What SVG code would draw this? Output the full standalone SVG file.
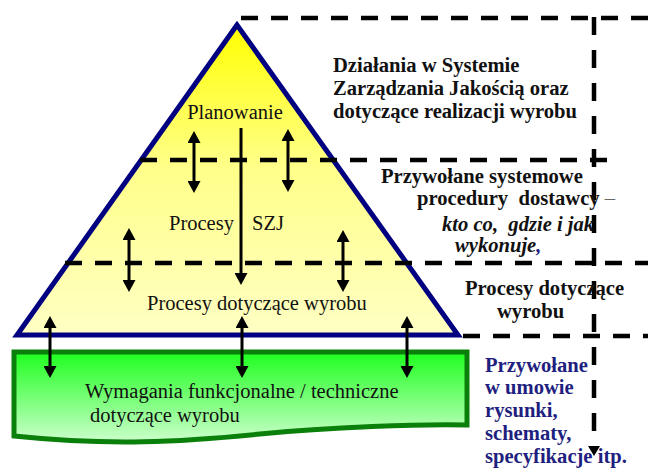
<svg xmlns="http://www.w3.org/2000/svg" width="648" height="471" viewBox="0 0 648 471">
<style>
.t{font-family:"Liberation Serif","Times New Roman",serif;font-size:20.5px;fill:#111;white-space:pre}
.b{font-weight:bold;font-size:20.6px}
.i{font-style:italic}
.blue{fill:#1f1f80}
.dash{stroke:#000;stroke-width:4.5;fill:none;stroke-dasharray:17 13}
.vdash{stroke:#000;stroke-width:4.5;fill:none;stroke-dasharray:18 15}
.arr{stroke:#000;stroke-width:3;fill:none}
.da{marker-start:url(#ah);marker-end:url(#ah)}
.sa{marker-end:url(#ah)}
</style>
<defs>
<linearGradient id="gy" x1="0" y1="0" x2="0" y2="1">
<stop offset="0" stop-color="#ffff00"/>
<stop offset="0.45" stop-color="#ffff88"/>
<stop offset="1" stop-color="#ffffc4"/>
</linearGradient>
<linearGradient id="gg" x1="0" y1="0" x2="0" y2="1">
<stop offset="0" stop-color="#1eff1e"/>
<stop offset="1" stop-color="#ccffcc"/>
</linearGradient>
<marker id="ah" viewBox="0 0 12 13" markerUnits="userSpaceOnUse" markerWidth="12" markerHeight="13" refX="2" refY="6.5" orient="auto-start-reverse">
<path d="M0,0 L12,6.5 L0,13 z" fill="#000"/>
</marker>
<marker id="vh" viewBox="0 0 10 12" markerUnits="userSpaceOnUse" markerWidth="10" markerHeight="12" refX="1" refY="6" orient="auto">
<path d="M0,0 L10,6 L0,12 z" fill="#000"/>
</marker>
</defs>

<g id="pyramid">
<polygon points="237,25 17,335 458,335" fill="url(#gy)" stroke="#000080" stroke-width="5" stroke-linejoin="miter"/>
</g>

<g id="requirements">
<path d="M14,352 L467,352 L467,425 C420,424 330,427 260,434 C180,442 110,446 14,436 Z" fill="url(#gg)" stroke="#0a800a" stroke-width="5"/>
</g>

<g id="connectors">
<path class="dash" d="M241,18 H648"/>
<path class="dash" d="M140,160 H618"/>
<path class="dash" d="M65,263 H648"/>
<path class="dash" d="M463,336 H648"/>
<path class="vdash" d="M594,17 V447" marker-end="url(#vh)"/>
<line class="arr da" x1="194" y1="141" x2="194" y2="183"/>
<line class="arr da" x1="288" y1="139" x2="288" y2="182"/>
<line class="arr sa" x1="241" y1="128" x2="241" y2="275"/>
<line class="arr da" x1="129" y1="238" x2="129" y2="282"/>
<line class="arr da" x1="343" y1="240" x2="343" y2="282"/>
<line class="arr da" x1="50" y1="326" x2="50" y2="368"/>
<line class="arr da" x1="242" y1="326" x2="242" y2="368"/>
<line class="arr da" x1="407" y1="326" x2="407" y2="368"/>
</g>

<g id="planowanie">
<text class="t" x="235" y="119" text-anchor="middle">Planowanie</text>
</g>
<g id="procesy-szj">
<text class="t" y="230"><tspan x="169">Procesy</tspan><tspan x="252">SZJ</tspan></text>
</g>
<g id="procesy-wyrobu">
<text class="t" x="147" y="310">Procesy dotyczące wyrobu</text>
</g>
<g id="wymagania">
<text class="t" x="85" y="398">Wymagania funkcjonalne / techniczne</text>
<text class="t" x="90" y="422">dotyczące wyrobu</text>
</g>

<g id="label-dzialania">
<text class="t b" x="333" y="72">Działania w Systemie</text>
<text class="t b" x="333" y="95">Zarządzania Jakością oraz</text>
<text class="t b" x="333" y="118">dotyczące realizacji wyrobu</text>
</g>
<g id="label-procedury">
<text class="t b" x="381" y="183">Przywołane systemowe</text>
<text class="t b" x="417" y="205">procedury  dostawcy <tspan style="font-weight:normal;fill:#666">–</tspan></text>
<text class="t b i" x="442" y="231">kto co,  gdzie i jak</text>
<text class="t b i" x="455" y="252">wykonuje<tspan class="blue">,</tspan></text>
</g>
<g id="label-procesy">
<text class="t b" x="465" y="295">Procesy dotyczące</text>
<text class="t b" x="497" y="318">wyrobu</text>
</g>
<g id="label-umowa">
<text class="t b blue" x="485" y="372">Przywołane</text>
<text class="t b blue" x="485" y="394">w umowie</text>
<text class="t b blue" x="485" y="417">rysunki,</text>
<text class="t b blue" x="485" y="440">schematy,</text>
<text class="t b blue" x="485" y="463">specyfikacje itp.</text>
</g>
</svg>
